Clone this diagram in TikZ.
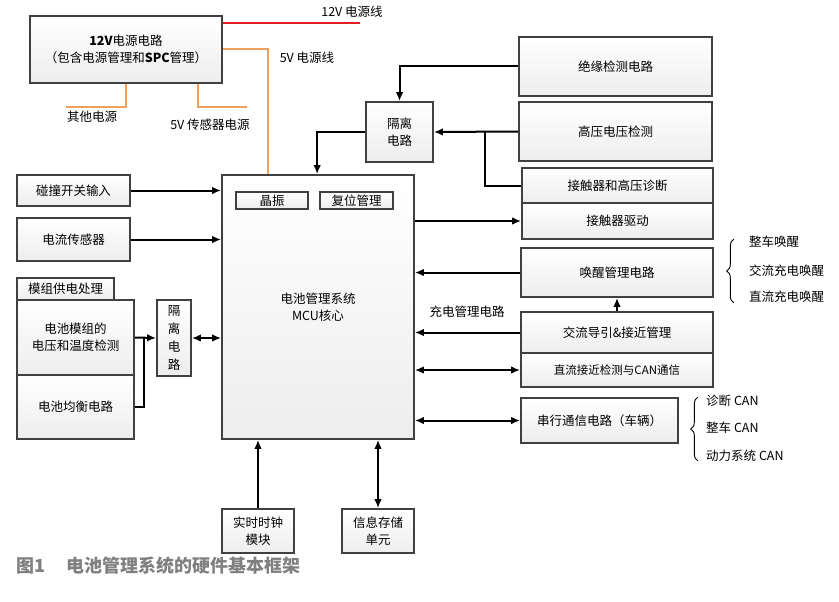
\documentclass[tikz,border=0pt]{standalone}
\usepackage{fontspec}
\setmainfont{Noto Sans CJK SC}
\usepackage{tikz}
\usetikzlibrary{arrows.meta,shadows,decorations.pathreplacing}
\definecolor{pwrorange}{RGB}{238,160,92}
\definecolor{pwrred}{RGB}{226,30,36}
\definecolor{capgray}{RGB}{128,128,128}

\begin{document}
\begin{tikzpicture}[x=1pt,y=-1pt,
  box/.style={draw=black!75,line width=1.7pt,top color=white,bottom color=gray!14,
    inner sep=0pt,align=center,font=\fontsize{12.5}{17}\selectfont,
    drop shadow={shadow xshift=1.2pt,shadow yshift=-1.2pt,opacity=.25}},
  arr/.style={line width=2pt,-{Latex[length=9pt,width=7.5pt]}},
  darr/.style={line width=2pt,{Latex[length=9pt,width=7.5pt]}-{Latex[length=9pt,width=7.5pt]}},
  wire/.style={line width=2pt},
  pline/.style={line width=2pt,draw=pwrorange},
  lbl/.style={font=\fontsize{12.5}{16}\selectfont,inner sep=0pt},
  brc/.style={line width=0.9pt,decorate,decoration={brace,amplitude=7pt}}]
\useasboundingbox (0,0) rectangle (839,602);

\node[box,minimum width=192pt,minimum height=67pt] (pw) at (126,49.5) {\textbf{12V}电源电路\\（包含电源管理和\textbf{SPC}管理）};
\node[box,minimum width=67pt,minimum height=60pt] (iso1) at (399.5,132) {隔离\\电路};
\node[box,minimum width=193pt,minimum height=59pt] (ins) at (615.5,66.5) {绝缘检测电路};
\node[box,minimum width=193pt,minimum height=59pt] (hv) at (615.5,131.5) {高压电压检测};
\node[box,minimum width=191pt,minimum height=35pt] (diag) at (617.5,185.5) {接触器和高压诊断};
\node[box,minimum width=191pt,minimum height=36pt] (drv) at (617.5,221) {接触器驱动};
\node[box,minimum width=192pt,minimum height=264pt] (mcu) at (318,307) {电池管理系统\\MCU核心};
\node[box,minimum width=72pt,minimum height=17pt,drop shadow={opacity=0}] (osc) at (272,200.5) {晶振};
\node[box,minimum width=73pt,minimum height=17pt,drop shadow={opacity=0}] (rst) at (356.5,200.5) {复位管理};
\node[box,minimum width=113pt,minimum height=31pt] (crash) at (73.5,190.5) {碰撞开关输入};
\node[box,minimum width=113pt,minimum height=43pt] (cur) at (73.5,239.5) {电流传感器};
\node[box,minimum width=97pt,minimum height=22pt] (tab) at (65.5,289) {模组供电处理};
\node[box,minimum width=117pt,minimum height=75pt] (mod) at (75.5,337.5) {电池模组的\\电压和温度检测};
\node[box,minimum width=117pt,minimum height=64pt] (bal) at (75.5,407) {电池均衡电路};
\node[box,minimum width=34pt,minimum height=76pt,font=\fontsize{12.5}{18}\selectfont] (iso2) at (174,338) {隔\\离\\电\\路};
\node[box,minimum width=192pt,minimum height=49pt] (wake) at (617,272.5) {唤醒管理电路};
\node[box,minimum width=192pt,minimum height=41pt] (ac) at (617,332.5) {交流导引\&接近管理};
\node[box,minimum width=192pt,minimum height=34pt,font=\fontsize{11.5}{15}\selectfont] (dc) at (617,370) {直流接近检测与CAN通信};
\node[box,minimum width=157pt,minimum height=45pt] (ser) at (599.5,420.5) {串行通信电路（车辆）};
\node[box,minimum width=72pt,minimum height=44pt] (rtc) at (258,531) {实时时钟\\模块};
\node[box,minimum width=72pt,minimum height=44pt] (mem) at (378,531) {信息存储\\单元};

\coordinate (end12) at (360,23);
\coordinate (othend) at (66,107);
\coordinate (senend) at (247,107);
\draw[line width=2pt,pwrred] (pw.east |- end12) -- (end12);
\node[lbl] (l12) at (352,12) {12V 电源线};
\draw[pline] (pw.east) -| ([xshift=47pt]mcu.north west);
\node[lbl] (l5) at (307,58) {5V 电源线};
\draw[pline] (pw.south) |- (othend);
\draw[pline] ([xshift=72pt]pw.south) |- (senend);
\node[lbl] (loth) at (92,117) {其他电源};
\node[lbl] (lsen) at (210,125) {5V 传感器电源};

\draw[arr] (ins.west) -| (iso1.north);
\draw[arr] (hv.west) -- (iso1.east);
\draw[wire] (diag.west) -| ([xshift=-33pt]hv.west);
\draw[arr] (iso1.west) -| ([xshift=96pt]mcu.north west);
\draw[arr] (mcu.east |- drv.west) -- (drv.west);

\draw[arr] (crash.east) -- (crash.east -| mcu.west);
\draw[arr] (cur.east) -- (cur.east -| mcu.west);
\draw[arr] (mod.east) -- (iso2.west);
\draw[wire] (bal.east) -| ([xshift=9pt]mod.east);
\draw[darr] (iso2.east) -- (iso2.east -| mcu.west);

\draw[arr] (wake.west) -- (wake.west -| mcu.east);
\draw[arr] (ac.west) -- (ac.west -| mcu.east);
\draw[arr] (ac.north) -- (wake.south);
\draw[darr] (dc.west) -- (dc.west -| mcu.east);
\draw[darr] (ser.west) -- (ser.west -| mcu.east);
\node[lbl] (lchg) at (467,312) {充电管理电路};

\draw[arr] (rtc.north) -- (rtc.north |- mcu.south);
\draw[darr] (mem.north) -- (mem.north |- mcu.south);

\draw[brc] ([xshift=20pt,yshift=-5pt]wake.south east) -- ([xshift=20pt,yshift=8pt]wake.north east);
\node[lbl,anchor=west] (w1) at (749,242) {整车唤醒};
\node[lbl,anchor=west] (w2) at (749,271) {交流充电唤醒};
\node[lbl,anchor=west] (w3) at (749,297) {直流充电唤醒};
\draw[brc] ([xshift=19pt,yshift=-17pt]ser.south east) -- ([xshift=19pt]ser.north east);
\node[lbl,anchor=west] (c1) at (706,401) {诊断 CAN};
\node[lbl,anchor=west] (c2) at (706,428) {整车 CAN};
\node[lbl,anchor=west] (c3) at (706,456) {动力系统 CAN};

\node[anchor=west,inner sep=0pt,text=capgray,font=\fontsize{18}{20}\selectfont\bfseries] (cap) at (16,566) {图1\hspace{1.2em}电池管理系统的硬件基本框架};
\end{tikzpicture}
\end{document}
